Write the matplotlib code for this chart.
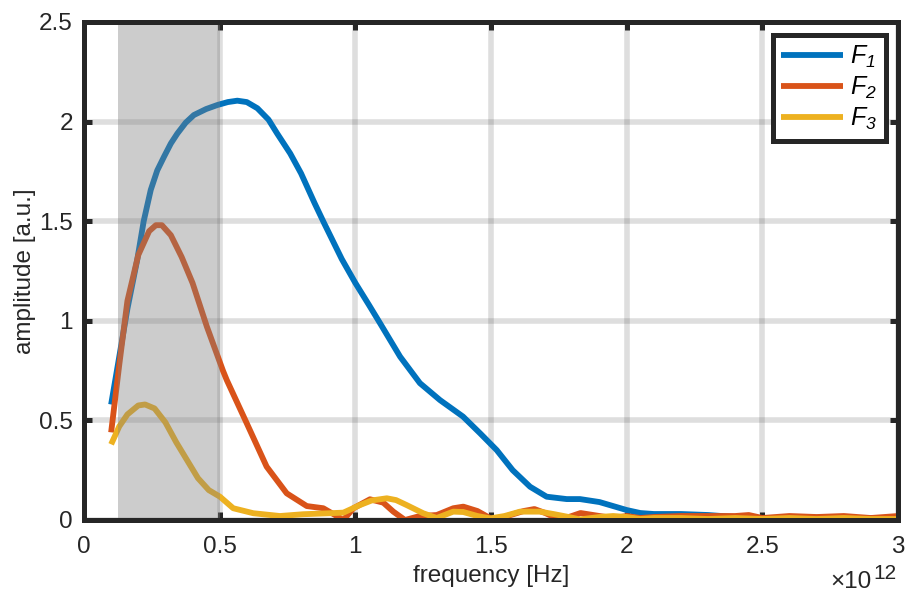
import matplotlib
matplotlib.use("Agg")
import matplotlib.pyplot as plt
from matplotlib.ticker import FormatStrFormatter

plt.rcParams["font.family"] = ["Liberation Sans", "DejaVu Sans"]
plt.rcParams["mathtext.fontset"] = "custom"
plt.rcParams["mathtext.rm"] = "Liberation Sans"
plt.rcParams["mathtext.it"] = "Liberation Sans:italic"
# italic digits for the legend subscripts (mathtext puts digits of \mathit in rm)
plt.rcParams["mathtext.bf"] = "Liberation Sans:italic"

# frequency in units of 1e12 Hz
f1_x = [0.10, 0.13, 0.16, 0.196, 0.22, 0.246, 0.27, 0.295, 0.32, 0.344, 0.375, 0.405,
        0.45, 0.491, 0.53, 0.565, 0.60, 0.639, 0.68, 0.712, 0.76, 0.80, 0.85, 0.885,
        0.95, 1.00, 1.05, 1.091, 1.165, 1.238, 1.312, 1.397, 1.46, 1.521, 1.58, 1.644,
        1.705, 1.779, 1.828, 1.90, 1.95, 2.00, 2.05, 2.10, 2.20, 2.30, 2.40, 2.50, 2.60,
        2.70, 2.80, 2.90, 3.00]
f1_y = [0.58, 0.82, 1.06, 1.305, 1.50, 1.657, 1.755, 1.824, 1.89, 1.94, 1.995, 2.033,
        2.063, 2.083, 2.098, 2.105, 2.098, 2.067, 2.01, 1.94, 1.84, 1.74, 1.59, 1.49,
        1.31, 1.19, 1.08, 0.988, 0.82, 0.687, 0.602, 0.519, 0.435, 0.351, 0.25, 0.167,
        0.117, 0.105, 0.105, 0.09, 0.07, 0.05, 0.035, 0.03, 0.03, 0.025, 0.015, 0.01, 0.01,
        0.012, 0.01, 0.01, 0.01]

f2_x = [0.10, 0.13, 0.16, 0.20, 0.24, 0.265, 0.287, 0.32, 0.36, 0.40, 0.453, 0.512, 0.526,
        0.60, 0.673, 0.747, 0.821, 0.882, 0.925, 0.956, 0.993, 1.054, 1.103, 1.14, 1.183,
        1.238, 1.30, 1.361, 1.398, 1.45, 1.509, 1.56, 1.62, 1.66, 1.70, 1.755, 1.83,
        1.90, 1.95, 2.00, 2.05, 2.10, 2.20, 2.30, 2.40, 2.45, 2.50, 2.60, 2.70, 2.80,
        2.90, 3.00]
f2_y = [0.44, 0.78, 1.10, 1.33, 1.45, 1.48, 1.48, 1.43, 1.32, 1.19, 0.97, 0.75, 0.703,
        0.485, 0.268, 0.134, 0.070, 0.059, 0.025, 0.0, 0.059, 0.104, 0.087, 0.042, 0.0,
        0.02, 0.025, 0.059, 0.067, 0.045, 0.0, 0.02, 0.045, 0.055, 0.035, 0.0, 0.035,
        0.02, 0.01, 0.02, 0.01, 0.015, 0.02, 0.02, 0.02, 0.025, 0.01, 0.02, 0.015, 0.02,
        0.01, 0.02]

f3_x = [0.10, 0.13, 0.16, 0.20, 0.225, 0.26, 0.30, 0.34, 0.38, 0.42, 0.46, 0.501, 0.55,
        0.624, 0.722, 0.808, 0.907, 0.956, 1.017, 1.06, 1.116, 1.15, 1.189, 1.25, 1.30,
        1.361, 1.398, 1.45, 1.497, 1.55, 1.607, 1.68, 1.73, 1.779, 1.828, 1.90, 1.95,
        2.00, 2.05, 2.10, 2.20, 2.30, 2.40, 2.50, 2.60, 2.70, 2.80, 2.90, 3.00]
f3_y = [0.38, 0.47, 0.53, 0.575, 0.58, 0.56, 0.49, 0.39, 0.30, 0.21, 0.15, 0.117, 0.059,
        0.034, 0.02, 0.029, 0.034, 0.037, 0.075, 0.098, 0.109, 0.10, 0.075, 0.034, 0.01,
        0.042, 0.04, 0.02, 0.008, 0.02, 0.042, 0.042, 0.03, 0.017, 0.003, 0.015, 0.02,
        0.015, 0.005, 0.01, 0.01, 0.005, 0.01, 0.005, 0.01, 0.005, 0.01, 0.005, 0.005]

series = [(f1_x, f1_y, "#0072BD", r"$F_{\mathbf{1}}$"),
          (f2_x, f2_y, "#D95319", r"$F_{\mathbf{2}}$"),
          (f3_x, f3_y, "#EDB120", r"$F_{\mathbf{3}}$")]

band = (0.125, 0.5)
x_ticks = [0, 0.5, 1, 1.5, 2, 2.5, 3]
y_ticks = [0, 0.5, 1, 1.5, 2, 2.5]

axis_color = "#262626"
fs = 17.5

fig = plt.figure(figsize=(9.07, 5.94), dpi=100)
ax = fig.add_axes([84 / 907, 1 - 520 / 594, (898 - 84) / 907, (520 - 22) / 594])

for x, y, c, lab in series:
    ax.plot(x, y, color=c, lw=4.2, label=lab, zorder=2,
            solid_joinstyle="round", solid_capstyle="butt")

ax.axvspan(band[0], band[1], color="#808080", alpha=0.4, lw=0, zorder=3)

ax.set_xlim(0, 3)
ax.set_ylim(0, 2.5)
ax.set_xticks(x_ticks)
ax.set_yticks(y_ticks)
ax.xaxis.set_major_formatter(FormatStrFormatter("%g"))
ax.yaxis.set_major_formatter(FormatStrFormatter("%g"))

ax.set_axisbelow(True)
ax.grid(True, color="black", alpha=0.13, lw=4)

for sp in ax.spines.values():
    sp.set_linewidth(3.6)
    sp.set_color(axis_color)
    sp.set_zorder(5)
ax.tick_params(direction="in", length=6, width=3.6, top=True, right=True,
               color=axis_color, labelcolor=axis_color, labelsize=fs)
ax.tick_params(axis="x", pad=11.5)
ax.tick_params(axis="y", pad=8)

ax.set_xlabel("frequency [Hz]", fontsize=fs, color=axis_color, labelpad=5)
ax.set_ylabel("amplitude [a.u.]", fontsize=fs, color=axis_color, labelpad=2.5)

# x10^12 exponent label under the right end of the x axis
fig.text(872 / 907, 1 - 588 / 594, "\u00d710", ha="right", va="baseline",
         fontsize=fs, color=axis_color)
fig.text(873 / 907, 1 - 579 / 594, "12", ha="left", va="baseline",
         fontsize=15, color=axis_color)

leg = ax.legend(loc="upper right", bbox_to_anchor=(0.985, 0.974), borderaxespad=0,
                fontsize=18, fancybox=False, framealpha=1, edgecolor=axis_color,
                handlelength=2.45, handletextpad=0.3, labelspacing=0.2, borderpad=0.35)
leg.get_frame().set_linewidth(3.6)
leg.set_zorder(6)

fig.savefig("out.png", dpi=100)
